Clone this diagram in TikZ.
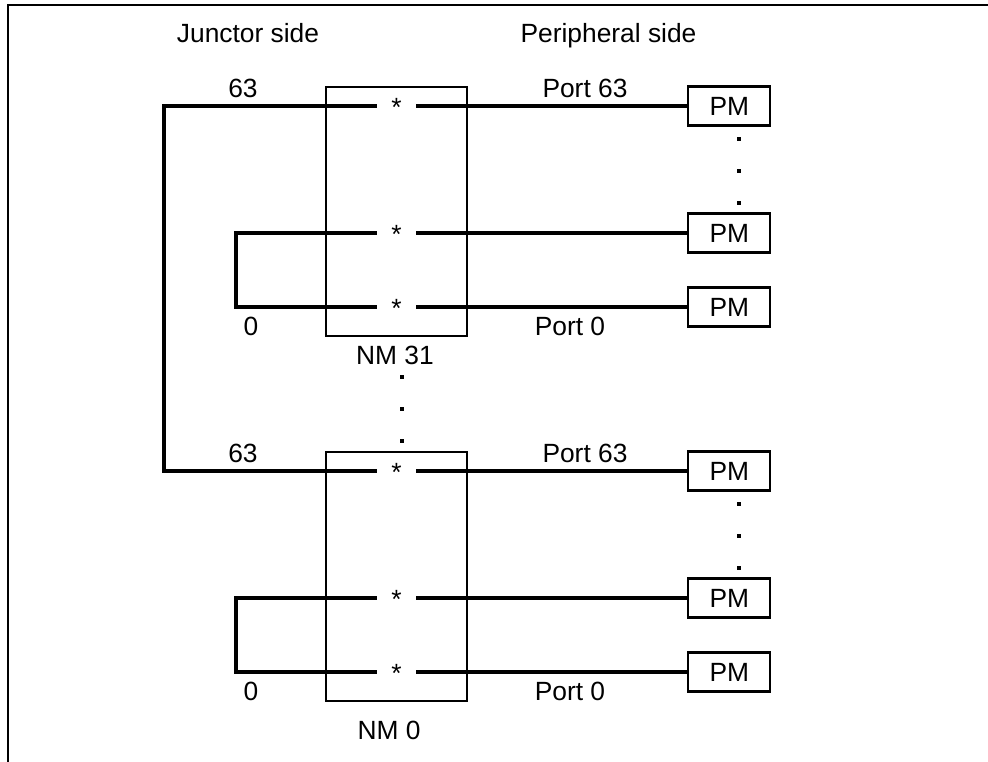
\documentclass[tikz,border=0pt]{standalone}
\usepackage{fontspec}
\setmainfont{Liberation Sans}
\usetikzlibrary{positioning, calc}

\begin{document}
\begin{tikzpicture}[every node/.style={font=\fontsize{15}{18}\selectfont}]
	\tikzstyle{wire}=[line width=1.8pt]
	\tikzstyle{nmbox}=[draw, line width=1.1pt, minimum width=2.82cm, minimum height=4.98cm, inner sep=0]
	\tikzstyle{pmbox}=[draw, line width=1.2pt, minimum width=1.64cm, minimum height=0.78cm, inner sep=0]
	\tikzstyle{xpt}=[minimum width=0.78cm, inner sep=0, text height=1.15em, text depth=0pt]
	\tikzstyle{sq}=[fill, minimum size=0.09cm, inner sep=0]
	
	\useasboundingbox (0,0) rectangle (19.76,15.24);
	\draw[line width=1.1pt] (0.16,0) -- (0.16,15.14) -- (19.76,15.14);
	
	\node(js) at (4.96,14.58) {Junctor side};
	\node[text depth=0pt](ps) at (12.17,14.58) {Peripheral side};
	
	\coordinate(jv) at (3.28,0);
	\coordinate(lp) at (4.72,0);
	
	%% the two network modules, NM 31 on top and NM 0 below
	\foreach \m/\s/\nm/\nx/\ny in {a/0/31/7.9/8.14, b/-7.3/0/7.78/0.64} {
		\node[nmbox](nm\m) at (7.93,11.01+\s) {};
		\node[xpt](s\m1) at (7.93,13.12+\s) {*};
		\node[xpt](s\m2) at (7.93,10.58+\s) {*};
		\node[xpt](s\m3) at (7.93,9.1+\s) {*};
		\foreach \r in {1,2,3} {
			\node[pmbox, right=5.42cm of s\m\r.east, anchor=west](p\m\r) {PM};
			\draw[wire] (s\m\r.east) -- (p\m\r.west);
		}
		\draw[wire] (s\m2.west) -- (s\m2.west -| lp) -- (s\m3.west -| lp) -- (s\m3.west);
		\foreach \d [count=\i] in {0.66,1.3,1.94} \node[sq](d\m\i) at (14.78,13.12+\s-\d) {};
		
		\node(n\m) at (\nx,\ny) {NM \nm};
		\node(l\m) at (4.86,13.48+\s) {63};
		\node(z\m) at (5.02,8.72+\s) {0};
		\node(pt\m) at (11.7,13.48+\s) {Port 63};
		\node(pz\m) at (11.4,8.72+\s) {Port 0};
	}
	\draw[wire] (sa1.west) -- (sa1.west -| jv) -- (sb1.west -| jv) -- (sb1.west);
	
	\foreach \y [count=\i] in {7.7,7.06,6.42} \node[sq](md\i) at (8.04,\y) {};
	
\end{tikzpicture}
\end{document}
